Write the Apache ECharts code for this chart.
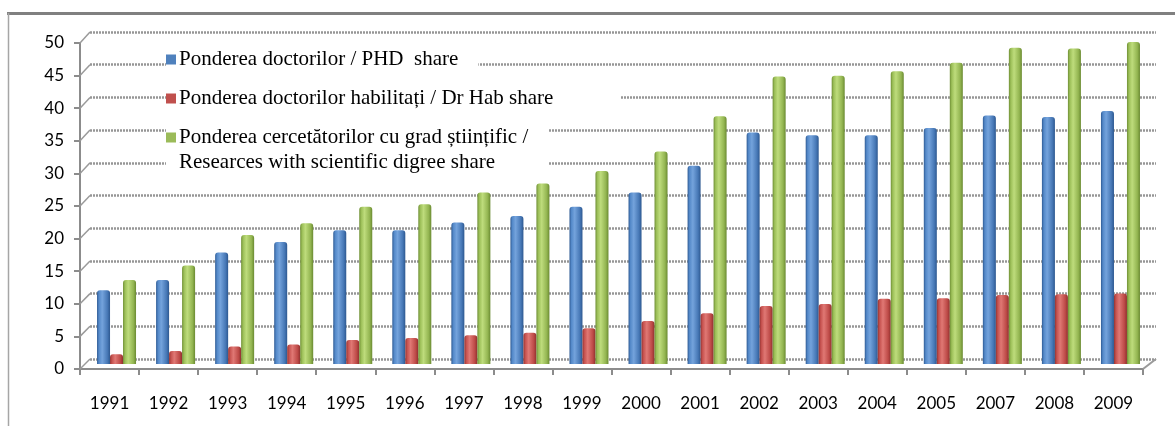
<!DOCTYPE html>
<html>
<head>
<meta charset="utf-8">
<script src="https://cdn.jsdelivr.net/npm/echarts@6/dist/echarts.min.js"></script>
<style>
html,body{margin:0;padding:0;background:#fff;}
#chart{width:1175px;height:426px;}
</style>
</head>
<body>
<div id="chart"></div>
<script>
const years = ['1991','1992','1993','1994','1995','1996','1997','1998','1999','2000','2001','2002','2003','2004','2005','2007','2008','2009'];
const phdShare = [11.3, 12.9, 17.1, 18.7, 20.5, 20.5, 21.7, 22.7, 24.1, 26.3, 30.4, 35.5, 35.1, 35.1, 36.2, 38.1, 37.9, 38.8];
const habShare = [1.5, 2.0, 2.7, 3.0, 3.7, 4.0, 4.4, 4.8, 5.5, 6.6, 7.8, 8.9, 9.2, 10.0, 10.1, 10.6, 10.7, 10.8];
const sciShare = [12.9, 15.1, 19.8, 21.6, 24.1, 24.5, 26.3, 27.7, 29.6, 32.6, 38.0, 44.1, 44.2, 44.9, 46.2, 48.5, 48.4, 49.4];
const seriesNames = [
  'Ponderea doctorilor / PHD  share',
  'Ponderea doctorilor habilitați / Dr Hab share',
  'Ponderea cercetătorilor cu grad științific /\nResearces with scientific digree share'
];
const yMin = 0, yMax = 50, yStep = 5;

const baseColors = ['#4f81bd', '#c0504d', '#9bbb59'];
const grads = [
  ['#2f5b94', '#5489c9', '#74a3dc', '#4778b6', '#2d5890'],
  ['#953432', '#c6524f', '#e07874', '#bd4a47', '#8f302e'],
  ['#6f8f35', '#9cbf58', '#bedc7c', '#93b551', '#6a8a31']
];
const tokenKeys = ['sb', 'sr', 'sg'];

function cyl(i) {
  const g = grads[i];
  return {
    type: 'linear', x: 0, y: 0, x2: 1, y2: 0,
    colorStops: [
      { offset: 0, color: g[0] },
      { offset: 0.15, color: g[1] },
      { offset: 0.4, color: g[2] },
      { offset: 0.8, color: g[3] },
      { offset: 1, color: g[4] }
    ]
  };
}

const rich = { gap: { width: 3 }, ind: { width: 13 } };
tokenKeys.forEach((k, i) => { rich[k] = { width: 10, height: 10, backgroundColor: baseColors[i] }; });

const dataSets = [phdShare, habShare, sciShare];
const series = dataSets.map((d, i) => ({
  name: seriesNames[i],
  type: 'bar',
  xAxisIndex: 2,
  yAxisIndex: 2,
  data: d,
  barWidth: 13,
  barGap: '0%',
  itemStyle: {
    color: cyl(i),
    borderRadius: [3, 3, 0, 0]
  },
  z: 3
}));

const chart = echarts.init(document.getElementById('chart'), null, { renderer: 'canvas' });
const axisGray = '#8c8c8c';
chart.setOption({
  animation: false,
  backgroundColor: '#ffffff',
  grid: [
    { left: 80, right: 32, top: 43, bottom: 57 },
    { left: 90, right: 19, top: 32, bottom: 67 },
    { left: 87, right: 25, top: 38, bottom: 62 }
  ],
  xAxis: [
    {
      gridIndex: 0, type: 'category', data: years,
      axisLine: { show: true, lineStyle: { color: axisGray, width: 2 } },
      axisTick: { show: true, length: 6, lineStyle: { color: axisGray, width: 2 } },
      axisLabel: { color: '#000', fontFamily: 'Lato', fontSize: 17, lineHeight: 17, margin: 26 },
      splitLine: { show: false }
    },
    { gridIndex: 1, type: 'category', data: years, show: false },
    { gridIndex: 2, type: 'category', data: years, show: false }
  ],
  yAxis: [
    {
      gridIndex: 0, type: 'value', min: yMin, max: yMax, interval: yStep,
      axisLine: { show: true, onZero: false, lineStyle: { color: axisGray, width: 2 } },
      axisTick: { show: true, length: 6, lineStyle: { color: axisGray, width: 2 } },
      axisLabel: { color: '#000', fontFamily: 'Lato', fontSize: 17, margin: 16 },
      splitLine: { show: false }
    },
    {
      gridIndex: 1, type: 'value', min: yMin, max: yMax, interval: yStep,
      axisLine: { show: false }, axisTick: { show: false }, axisLabel: { show: false },
      splitLine: { show: true, lineStyle: { color: '#969696', width: 2.5, type: [2, 1] } }
    },
    {
      gridIndex: 2, type: 'value', min: yMin, max: yMax, interval: yStep, show: false,
      splitLine: { show: false }
    }
  ],
  legend: {
    orient: 'vertical',
    left: 161,
    top: 47,
    padding: 0,
    itemGap: 14,
    itemWidth: 0,
    itemHeight: 0,
    icon: 'none',
    selectedMode: false,
    data: seriesNames.map((n, i) => ({
      name: n,
      textStyle: { padding: [0, i === 1 ? 67 : 20, 0, 0] }
    })),
    formatter: function (name) {
      const i = seriesNames.indexOf(name);
      const lines = name.split('\n');
      return lines.map((l, j) => (j === 0 ? '{' + tokenKeys[i] + '|}{gap|}' : '{ind|}') + l).join('\n');
    },
    textStyle: {
      fontFamily: 'Liberation Serif',
      fontSize: 21,
      lineHeight: 25,
      color: '#000',
      backgroundColor: '#ffffff',
      rich: rich
    }
  },
  series: series
});

// 3D-style connectors between the front axis ticks and the back wall gridlines
const deco = [
  { type: 'line', shape: { x1: 7, y1: 13.5, x2: 1175, y2: 13.5 }, style: { stroke: '#808080', lineWidth: 3 }, silent: true },
  { type: 'line', shape: { x1: 8.5, y1: 13, x2: 8.5, y2: 426 }, style: { stroke: '#a6a6a6', lineWidth: 1.5 }, silent: true }
];
for (let v = yMin; v <= yMax; v += yStep) {
  const f = chart.convertToPixel({ yAxisIndex: 0 }, v);
  const b = chart.convertToPixel({ yAxisIndex: 1 }, v);
  const fx = chart.convertToPixel({ xAxisIndex: 0 }, years[0]) - 29.5;
  deco.push({ type: 'line', shape: { x1: 80, y1: f, x2: 90, y2: b }, style: { stroke: '#9a9a9a', lineWidth: 1.5 }, silent: true, z: 1 });
}
const f0 = chart.convertToPixel({ yAxisIndex: 0 }, 0);
const b0 = chart.convertToPixel({ yAxisIndex: 1 }, 0);
deco.push({ type: 'line', shape: { x1: 1143, y1: f0, x2: 1156, y2: b0 }, style: { stroke: '#9a9a9a', lineWidth: 2 }, silent: true, z: 1 });
chart.setOption({ graphic: deco });
</script>
</body>
</html>
